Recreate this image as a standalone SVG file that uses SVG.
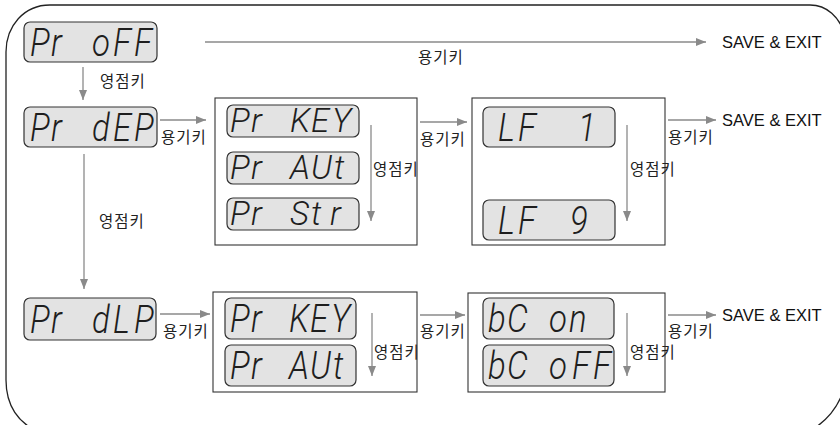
<svg xmlns="http://www.w3.org/2000/svg" width="840" height="425" viewBox="0 0 840 425">
<defs>
<marker id="ah" markerUnits="userSpaceOnUse" markerWidth="10" markerHeight="8" refX="10" refY="4" orient="auto"><path d="M0,0 L10,4 L0,8 z" fill="#8a8a8a"/></marker>
<style>
.frame{fill:none;stroke:#222;stroke-width:1.3}
.box{fill:#fff;stroke:#333;stroke-width:1.1}
.lcdb{fill:#e3e3e3;stroke:#333;stroke-width:1.2}
.lcd{font-family:Roboto,"Liberation Sans",sans-serif;font-style:italic;font-weight:300;font-size:33px;fill:#1e1e1e}
.con{stroke:#8a8a8a;stroke-width:1.3;fill:none;marker-end:url(#ah)}
.kr{font-family:"Noto Sans CJK KR","Noto Sans",sans-serif;font-size:15.5px;letter-spacing:1px;fill:#222}
.se{font-family:"Liberation Sans",Arial,sans-serif;font-size:16.5px;fill:#111}
</style>
</defs>
<rect width="840" height="425" fill="#fff"/>
<path class="frame" d="M6 380 L6 52 C6 26 24 5 50 5 L810 5 C826 5 840 16 846 38 L846 380 C842 402 830 420 808 432 L40 432 C18 424 6 405 6 380 Z"/>

<g id="box1"><rect class="box" x="215" y="98" width="202" height="147"/></g>
<g id="box2"><rect class="box" x="472" y="98" width="193" height="147"/></g>
<g id="box3"><rect class="box" x="213" y="292" width="204" height="100"/></g>
<g id="box4"><rect class="box" x="468" y="293" width="197" height="99"/></g>

<g id="lcd-pr-off"><rect class="lcdb" x="24" y="22" width="133" height="40" rx="6"/><text class="lcd" transform="translate(0,56) scale(1,1.2)" x="30 51 92 113 134">ProFF</text></g>
<g id="lcd-pr-dep"><rect class="lcdb" x="24" y="107" width="133" height="40" rx="6"/><text class="lcd" transform="translate(0,141) scale(1,1.2)" x="30 51 92 113 134">PrdEP</text></g>
<g id="lcd-pr-dlp"><rect class="lcdb" x="24" y="298" width="132" height="42" rx="6"/><text class="lcd" transform="translate(0,333) scale(1,1.2)" x="30 51 92 113 134">PrdLP</text></g>

<g id="lcd-b1-key"><rect class="lcdb" x="227" y="105" width="132" height="32" rx="6"/><text class="lcd" x="230 251 290 311 332" y="132">PrKEY</text></g>
<g id="lcd-b1-aut"><rect class="lcdb" x="227" y="152" width="132" height="32" rx="6"/><text class="lcd" x="230 251 290 311 334" y="179">PrAUt</text></g>
<g id="lcd-b1-str"><rect class="lcdb" x="227" y="198" width="132" height="32" rx="6"/><text class="lcd" x="230 251 290 311 330" y="225">PrStr</text></g>

<g id="lcd-lf1"><rect class="lcdb" x="483" y="107" width="132" height="40" rx="6"/><text class="lcd" transform="translate(0,141) scale(1,1.2)" x="498 518 578">LF1</text></g>
<g id="lcd-lf9"><rect class="lcdb" x="483" y="200" width="132" height="40" rx="6"/><text class="lcd" transform="translate(0,234) scale(1,1.2)" x="498 518 570">LF9</text></g>

<g id="lcd-b3-key"><rect class="lcdb" x="225" y="298" width="131" height="41" rx="6"/><text class="lcd" transform="translate(0,332) scale(1,1.2)" x="230 251 289 310 331">PrKEY</text></g>
<g id="lcd-b3-aut"><rect class="lcdb" x="225" y="345" width="131" height="41" rx="6"/><text class="lcd" transform="translate(0,379) scale(1,1.2)" x="230 251 289 310 333">PrAUt</text></g>

<g id="lcd-bc-on"><rect class="lcdb" x="483" y="298" width="131" height="41" rx="6"/><text class="lcd" transform="translate(0,332) scale(1,1.2)" x="488 507 549 569">bCon</text></g>
<g id="lcd-bc-off"><rect class="lcdb" x="483" y="345" width="131" height="41" rx="6"/><text class="lcd" transform="translate(0,379) scale(1,1.2)" x="488 507 549 572 593">bCoFF</text></g>

<g id="connectors">
<line class="con" x1="205" y1="42" x2="706" y2="42"/>
<line class="con" x1="83" y1="67" x2="83" y2="100"/>
<line class="con" x1="160" y1="120" x2="206" y2="120"/>
<line class="con" x1="371" y1="125" x2="371" y2="221"/>
<line class="con" x1="420" y1="122" x2="467" y2="122"/>
<line class="con" x1="627" y1="125" x2="627" y2="221"/>
<line class="con" x1="668" y1="120" x2="716" y2="120"/>
<line class="con" x1="84" y1="154" x2="84" y2="289"/>
<line class="con" x1="160" y1="314" x2="210" y2="314"/>
<line class="con" x1="372" y1="313" x2="372" y2="376"/>
<line class="con" x1="420" y1="315" x2="465" y2="315"/>
<line class="con" x1="627" y1="313" x2="627" y2="376"/>
<line class="con" x1="668" y1="315" x2="716" y2="315"/>
</g>

<g id="labels">
<text class="kr" x="418" y="63">용기키</text>
<text class="kr" x="100" y="87">영점키</text>
<text class="kr" x="161" y="143">용기키</text>
<text class="kr" x="373" y="175">영점키</text>
<text class="kr" x="420" y="145">용기키</text>
<text class="kr" x="630" y="175">영점키</text>
<text class="kr" x="668" y="143">용기키</text>
<text class="kr" x="99" y="227">영점키</text>
<text class="kr" x="163" y="337">용기키</text>
<text class="kr" x="374" y="358">영점키</text>
<text class="kr" x="420" y="337">용기키</text>
<text class="kr" x="630" y="358">영점키</text>
<text class="kr" x="668" y="337">용기키</text>
<text class="se" x="722" y="48">SAVE &amp; EXIT</text>
<text class="se" x="722" y="126">SAVE &amp; EXIT</text>
<text class="se" x="722" y="321">SAVE &amp; EXIT</text>
</g>
</svg>
